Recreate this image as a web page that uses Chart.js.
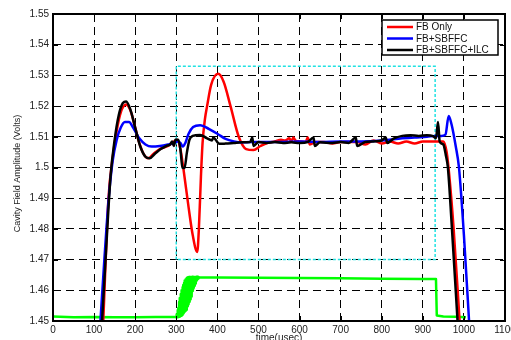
<!DOCTYPE html>
<html>
<head>
<meta charset="utf-8">
<script src="https://cdn.jsdelivr.net/npm/chart.js@4.4.1/dist/chart.umd.min.js"></script>
<style>
html, body { margin: 0; padding: 0; background: #fff; }
</style>
</head>
<body>
<canvas id="myChart" width="511" height="340"></canvas>
<script>
// tick labels
var xTicks = [0, 100, 200, 300, 400, 500, 600, 700, 800, 900, 1000, 1100];
var yTicks = [1.45, 1.46, 1.47, 1.48, 1.49, 1.5, 1.51, 1.52, 1.53, 1.54, 1.55];

var seriesNames = ['FB Only', 'FB+SBFFC', 'FB+SBFFC+ILC'];

// FB Only (red)
var fbT = [122,135,145,155,165,178,190,200,210,220,232,245,260,280,295,302,310,317,330,340,351,355,360,364,370,375,385,402,415,432,452,470,488,505,521,540,555,565,575,580,585,590,600,615,620,625,640,660,680,700,720,740,760,780,800,820,840,860,880,900,920,935,950,958,964,975,990];
var fbV = [1.449,1.49,1.503,1.512,1.518,1.5205,1.518,1.513,1.508,1.5045,1.503,1.5045,1.506,1.507,1.5085,1.509,1.506,1.5,1.487,1.478,1.4725,1.48,1.497,1.508,1.516,1.52,1.527,1.5305,1.528,1.52,1.51,1.506,1.5057,1.507,1.508,1.5085,1.509,1.5088,1.5095,1.5085,1.5098,1.5088,1.5085,1.5083,1.5098,1.5075,1.5083,1.5083,1.5078,1.5083,1.5083,1.5083,1.5075,1.5088,1.5078,1.5085,1.5078,1.5085,1.5078,1.5085,1.5085,1.5085,1.5085,1.505,1.498,1.48,1.449];

// FB+SBFFC (blue)
var sbT = [115,125,135,145,155,165,175,185,195,210,225,240,260,280,295,303,310,316,322,330,341,358,380,400,420,440,460,480,500,550,600,650,700,750,800,850,880,910,930,945,955,963,970,980,988,1000,1013];
var sbV = [1.449,1.47,1.489,1.502,1.509,1.513,1.5148,1.5148,1.513,1.5095,1.5075,1.5068,1.507,1.5075,1.508,1.5085,1.508,1.5068,1.508,1.511,1.5132,1.5138,1.5125,1.511,1.5093,1.5085,1.5082,1.5083,1.5083,1.5083,1.5085,1.5083,1.5085,1.5085,1.5088,1.5095,1.5098,1.51,1.5103,1.5103,1.5107,1.5168,1.514,1.507,1.5,1.478,1.449];

// FB+SBFFC+ILC (black)
var ilcT = [119,130,140,150,160,170,178,188,200,212,225,235,248,262,275,285,290,294,298,305,310,315,320,326,332,340,358,375,387,390,405,420,440,460,480,485,488,500,520,540,560,580,600,620,634,637,650,680,700,720,737,740,760,780,800,810,813,830,850,870,890,910,925,932,937,941,950,956,961,970,985];
var ilcV = [1.449,1.475,1.497,1.509,1.517,1.521,1.5215,1.519,1.513,1.507,1.5035,1.503,1.5045,1.506,1.507,1.5075,1.5085,1.507,1.509,1.509,1.506,1.5,1.4998,1.505,1.509,1.5103,1.5106,1.5095,1.5088,1.5098,1.5077,1.5078,1.508,1.5082,1.5083,1.5098,1.507,1.5083,1.508,1.5083,1.508,1.5082,1.508,1.5083,1.5098,1.507,1.5082,1.508,1.5083,1.508,1.5098,1.507,1.5083,1.5085,1.5088,1.5098,1.508,1.5095,1.5103,1.5105,1.5103,1.5105,1.5102,1.5095,1.5148,1.5085,1.5075,1.504,1.5,1.482,1.449];

// green trace (dense ripple during the 300-356 rise)
var grT = [0,50,100,150,200,250,298,
	300,301,302,303,304,305,306,307,308,309,310,311,312,313,314,315,316,317,318,319,320,321,322,323,324,325,326,327,328,
	329,330,331,332,333,334,335,336,337,338,339,340,341,342,343,344,345,346,347,348,349,350,351,352,353,354,355,356,
	400,500,600,700,800,900,932,934,950,980,1005];
var grV = [1.4515,1.4512,1.4513,1.4512,1.4512,1.4513,1.4513,
	1.4512,1.4522,1.4512,1.4535,1.4513,1.4542,1.4513,1.4562,1.4514,1.4575,1.4516,1.4588,1.4517,1.46,1.452,1.461,1.4523,1.4617,1.4525,1.4624,1.453,1.4632,1.4533,1.4636,1.4537,1.464,1.4542,1.4642,1.4548,
	1.4642,1.4555,1.4643,1.4563,1.4643,1.4571,1.4643,1.458,1.4643,1.4589,1.4643,1.4598,1.4643,1.4607,1.4643,1.4615,1.4643,1.4622,1.4643,1.4628,1.4643,1.4632,1.4643,1.4636,1.4643,1.4639,1.4643,1.4642,
	1.4642,1.4641,1.464,1.4639,1.4638,1.4637,1.4637,1.4518,1.4515,1.4514,1.4512];

// cyan dotted box
var boxT = [300, 300, 930, 930, 300];
var boxV = [1.47, 1.533, 1.533, 1.47, 1.47];

function pts(t, v) {
	return t.map(function (x, i) { return {x: x, y: v[i]}; });
}

var frame = {
	id: 'frame',
	afterDatasetsDraw: function (chart) {
		var ctx = chart.ctx, a = chart.chartArea;
		var xs = chart.scales.x, ys = chart.scales.y;
		ctx.save();
		ctx.strokeStyle = '#000';
		ctx.lineWidth = 1;
		ctx.beginPath();
		xTicks.forEach(function (t) {
			var px = Math.round(xs.getPixelForValue(t)) + 0.5;
			ctx.moveTo(px, a.bottom); ctx.lineTo(px, a.bottom - 5);
			ctx.moveTo(px, a.top); ctx.lineTo(px, a.top + 5);
		});
		yTicks.forEach(function (v) {
			var py = Math.round(ys.getPixelForValue(v)) + 0.5;
			ctx.moveTo(a.left, py); ctx.lineTo(a.left + 5, py);
			ctx.moveTo(a.right, py); ctx.lineTo(a.right - 5, py);
		});
		ctx.stroke();
		ctx.lineWidth = 2;
		ctx.strokeRect(a.left, a.top, a.right - a.left, a.bottom - a.top);

		// legend
		var colors = ['#ff0000', '#0000ff', '#000000'];
		var lx = 382, ly = 20, lw = 116, lh = 35;
		ctx.fillStyle = '#fff';
		ctx.fillRect(lx, ly, lw, lh);
		ctx.lineWidth = 1.5;
		ctx.strokeRect(lx, ly, lw, lh);
		ctx.font = '10px "Liberation Sans", Arial, sans-serif';
		ctx.textBaseline = 'middle';
		ctx.textAlign = 'left';
		seriesNames.forEach(function (name, i) {
			var yy = ly + 7 + i * 11.5;
			ctx.strokeStyle = colors[i];
			ctx.lineWidth = 2.5;
			ctx.beginPath();
			ctx.moveTo(387, yy); ctx.lineTo(413, yy);
			ctx.stroke();
			ctx.fillStyle = '#111';
			ctx.fillText(name, 416, yy + 0.5);
		});

		// axis titles
		ctx.fillStyle = '#222';
		ctx.font = '10px "Liberation Sans", Arial, sans-serif';
		ctx.textAlign = 'center';
		ctx.textBaseline = 'top';
		ctx.fillText('time(usec)', (a.left + a.right) / 2, 333);
		ctx.save();
		ctx.translate(18, (a.top + a.bottom) / 2 + 6);
		ctx.rotate(-Math.PI / 2);
		ctx.font = '9px "Liberation Sans", Arial, sans-serif';
		ctx.textBaseline = 'middle';
		ctx.fillText('Cavity Field Amplitude (Volts)', 0, 0);
		ctx.restore();
		ctx.restore();
	}
};

var ctx = document.getElementById('myChart').getContext('2d');
var myChart = new Chart(ctx, {
	type: 'line',
	data: {
		datasets: [
			{label: 'box', data: pts(boxT, boxV), borderColor: '#22e2e2', borderWidth: 1.5, borderDash: [3, 2], tension: 0, order: 5},
			{label: 'green', data: pts(grT, grV), borderColor: '#00ff00', borderWidth: 2.5, borderJoinStyle: 'round', tension: 0, order: 4},
			{label: seriesNames[0], data: pts(fbT, fbV), borderColor: '#ff0000', borderWidth: 2.5, cubicInterpolationMode: 'monotone', order: 2},
			{label: seriesNames[1], data: pts(sbT, sbV), borderColor: '#0000ff', borderWidth: 2.5, cubicInterpolationMode: 'monotone', order: 1},
			{label: seriesNames[2], data: pts(ilcT, ilcV), borderColor: '#000000', borderWidth: 2.5, cubicInterpolationMode: 'monotone', order: 0}
		]
	},
	options: {
		responsive: false,
		animation: false,
		layout: {padding: {top: 14, right: 6, left: 0, bottom: 0}},
		elements: {point: {radius: 0}},
		plugins: {legend: {display: false}, tooltip: {enabled: false}},
		scales: {
			x: {
				type: 'linear', min: 0, max: 1100,
				afterBuildTicks: function (s) { s.ticks = xTicks.map(function (v) { return {value: v}; }); },
				afterFit: function (s) { s.height = 19; s.paddingLeft = 0; s.paddingRight = 0; },
				grid: {color: '#000', lineWidth: 1, drawTicks: false},
				border: {display: false, dash: [8, 5]},
				ticks: {color: '#222', padding: 3, maxRotation: 0, autoSkip: false, font: {size: 10, family: '"Liberation Sans", Arial, sans-serif'},
					callback: function (v) { return String(v); }}
			},
			y: {
				type: 'linear', min: 1.45, max: 1.55,
				afterBuildTicks: function (s) { s.ticks = yTicks.map(function (v) { return {value: v}; }); },
				afterFit: function (s) { s.width = 53; s.paddingTop = 0; s.paddingBottom = 0; },
				grid: {color: '#000', lineWidth: 1, drawTicks: false},
				border: {display: false, dash: [8, 5]},
				ticks: {color: '#222', padding: 4, autoSkip: false, font: {size: 10, family: '"Liberation Sans", Arial, sans-serif'},
					callback: function (v) { return String(Number(v.toFixed(2))); }}
			}
		}
	},
	plugins: [frame]
});
</script>
</body>
</html>
